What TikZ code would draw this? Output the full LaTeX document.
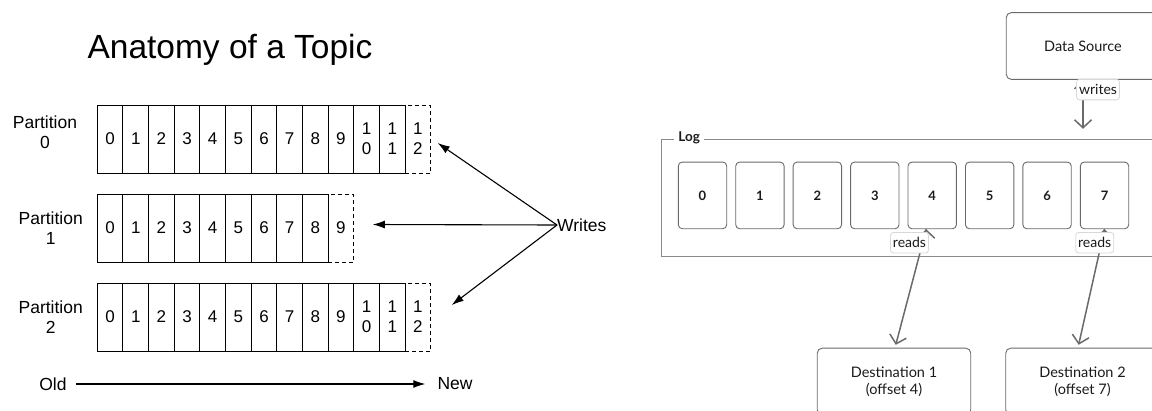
\documentclass[tikz,border=0pt]{standalone}
\usepackage{fontspec}
\setmainfont{Liberation Sans}
\newfontfamily\sketchfont{Lato}
\usetikzlibrary{arrows.meta, positioning, shapes}

\definecolor{boxgray}{HTML}{6A6A6A}
\definecolor{framegray}{HTML}{8A8A8A}
\definecolor{tagline}{HTML}{D8D8D8}
\definecolor{inkgray}{HTML}{1A1A1A}

\begin{document}
\begin{tikzpicture}[x=1pt, y=-1pt,
        cell/.style={rectangle, draw, line width=0.9pt, minimum width=25.65pt, minimum height=68pt, inner sep=0pt, outer sep=0pt, align=center, font=\fontsize{17}{20}\selectfont},
        newcell/.style={cell, dash pattern=on 4pt off 3pt},
        plabel/.style={align=center, font=\fontsize{17.5}{20.5}\selectfont},
        writearrow/.style={line width=1.1pt, -{Latex[length=12pt, width=8pt]}},
        sbox/.style={rectangle, rounded corners=5pt, draw=boxgray, line width=0.9pt, minimum width=153.5pt, minimum height=66.7pt, align=center, text=inkgray, font=\sketchfont\fontsize{14.5}{16.5}\selectfont},
        entry/.style={rectangle, rounded corners=4pt, draw=boxgray, line width=0.9pt, minimum width=48.4pt, minimum height=66.7pt, text=inkgray, font=\sketchfont\bfseries\fontsize{13}{15}\selectfont},
        tag/.style={rectangle, rounded corners=3pt, draw=tagline, line width=0.8pt, fill=white, inner sep=2.5pt, minimum height=20.5pt, text=inkgray, font=\sketchfont\fontsize{14}{16}\selectfont},
        readarrow/.style={draw=boxgray, line width=1.5pt, -{Straight Barb[length=8pt, width=17pt]}}]
        \useasboundingbox (0,0) rectangle (1152,410);
        \clip (0,0) rectangle (1152,410);

        % left: anatomy of a topic
        \node[font=\fontsize{33.5}{40}\selectfont] (title) at (230,50) {Anatomy of a Topic};

        \node[plabel] (part0) at (45,132) {Partition\\0};
        \node[plabel] (part1) at (50.7,228) {Partition\\1};
        \node[plabel] (part2) at (50.7,317) {Partition\\2};

        \foreach \i/\t in {0/0,1/1,2/2,3/3,4/4,5/5,6/6,7/7,8/8,9/9,10/{1\\0},11/{1\\1}}
            \node[cell] (p0c\i) at ({110.1+25.65*\i},139) {\t};
        \node[newcell] (p0c12) at ({110.1+25.65*12},139) {1\\2};

        \foreach \i in {0,...,8}
            \node[cell] (p1c\i) at ({110.1+25.65*\i},228) {\i};
        \node[newcell] (p1c9) at ({110.1+25.65*9},228) {9};

        \foreach \i/\t in {0/0,1/1,2/2,3/3,4/4,5/5,6/6,7/7,8/8,9/9,10/{1\\0},11/{1\\1}}
            \node[cell] (p2c\i) at ({110.1+25.65*\i},317) {\t};
        \node[newcell] (p2c12) at ({110.1+25.65*12},317) {1\\2};

        \node[anchor=west, inner sep=0pt, font=\fontsize{17.5}{20}\selectfont] (writes) at (557,225) {Writes};
        \coordinate (w0) at ([xshift=7pt, yshift=-4pt]p0c12.east);
        \coordinate (w1) at ([xshift=19pt, yshift=3.5pt]p1c9.east);
        \coordinate (w2) at ([xshift=21pt, yshift=12pt]p2c12.east);
        \path[writearrow] (writes.west) edge (w0);
        \path[writearrow] (writes.west) edge (w1);
        \path[writearrow] (writes.west) edge (w2);

        \node[inner sep=0pt, font=\fontsize{17.5}{20}\selectfont] (old) at (53,384) {Old};
        \node[inner sep=0pt, font=\fontsize{17.5}{20}\selectfont] (new) at (455,384) {New};
        \path[writearrow] (old) edge [shorten <=9pt, shorten >=12pt] (new);

        % right: log with a source and two readers
        \node[sbox] (src) at (1083,46) {Data Source};
        \node[rectangle, draw=framegray, line width=0.9pt, minimum width=508.3pt, minimum height=117.4pt] (logbox) at (915.85,198) {};
        \node[fill=white, inner sep=4pt, text=inkgray, font=\sketchfont\bfseries\fontsize{13.5}{15}\selectfont] (loglbl) at (689.2,138) {Log};

        \foreach \i in {0,...,7}
            \node[entry] (l\i) at ({702.5+57.43*\i},195.4) {\i};

        \node[sbox] (dest1) at (894,381.5) {Destination 1\\(offset 4)};
        \node[sbox] (dest2) at (1082.5,381.5) {Destination 2\\(offset 7)};

        \coordinate (wtip) at ([yshift=-49pt]src.south);
        \path[readarrow] (src.south) edge [shorten <=20pt] (wtip);
        \path[readarrow] ([xshift=-6pt]l4.south) edge [shorten >=3pt] ([xshift=1pt]dest1.north);
        \path[readarrow] (l7.south) edge [shorten >=3pt] ([xshift=-4.5pt]dest2.north);

        \node[tag] (wtag) at (1098,89.6) {writes};
        \node[tag] (r4) at (909.5,242.7) {reads};
        \node[tag] (r7) at (1094.7,242.7) {reads};
\end{tikzpicture}
\end{document}
